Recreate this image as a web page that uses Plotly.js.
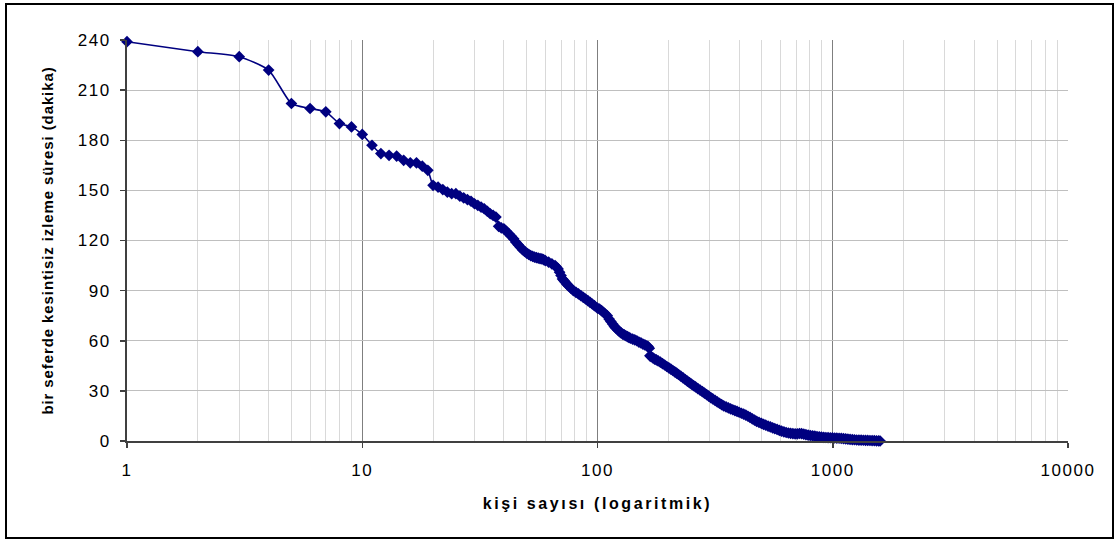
<!DOCTYPE html>
<html>
<head>
<meta charset="utf-8">
<script src="https://cdn.plot.ly/plotly-3.0.1.min.js"></script>
<style>
  html, body { margin: 0; padding: 0; background: #ffffff; }
  #chart { width: 1120px; height: 541px; }
</style>
</head>
<body>
<div id="chart"></div>
<script>
// number of people (rank, log scale)
const ranks = [
  1, 2, 3, 4, 5, 6, 7, 8, 9, 10,
  11, 12, 13, 14, 15, 16, 17, 18, 19, 20,
  21, 22, 23, 24, 25, 26, 27, 28, 29, 30,
  31, 32, 33, 34, 35, 36, 37, 38, 39, 40,
  41, 42, 43, 44, 45, 46, 47, 48, 49, 50,
  51, 52, 53, 54, 55, 56, 57, 58, 59, 60,
  62, 64, 66, 67, 68, 69, 70, 71, 72, 73,
  74, 75, 77, 79, 81, 83, 85, 87, 89, 91,
  93, 95, 97, 100, 102, 104, 106, 108, 110, 112,
  114, 116, 118, 120, 122, 124, 126, 128, 130, 132,
  134, 136, 138, 141, 144, 147, 150, 153, 156, 159,
  162, 164, 166, 167, 169, 172, 175, 178, 181, 185,
  189, 193, 197, 201, 205, 209, 213, 217, 221, 226,
  231, 236, 241, 246, 251, 256, 261, 267, 273, 279,
  285, 291, 297, 303, 309, 316, 323, 330, 337, 344,
  352, 360, 368, 376, 384, 392, 400, 409, 418, 427,
  436, 445, 455, 465, 475, 486, 497, 508, 519, 531,
  543, 555, 567, 580, 593, 606, 620, 634, 648, 662,
  677, 692, 707, 722, 737, 753, 769, 786, 803, 821,
  839, 857, 876, 895, 915, 935, 955, 976, 997, 1019,
  1041, 1064, 1087, 1111, 1135, 1160, 1185, 1211, 1237, 1264,
  1292, 1320, 1349, 1378, 1408, 1439, 1470, 1502, 1535, 1568,
  1590
];
// uninterrupted viewing time in one sitting (minutes)
const minutes = [
  239, 233, 230, 222, 202, 199, 197, 190, 188, 183.5,
  177, 172, 171, 170.5, 168, 166.5, 166.5, 164.5, 162, 153,
  152, 150.5, 149, 148, 148, 146.5, 145.5, 144.5, 143.5, 142,
  141, 140, 139, 137.5, 136, 135, 134, 128.5, 127.5, 127,
  125.5, 124, 122.5, 121, 119, 117.5, 116, 114.5, 113.5, 112.5,
  111.7, 111, 110.5, 110, 109.7, 109.5, 109.2, 109, 108.5, 108,
  107, 106, 105, 104, 103, 101, 99, 97, 96, 95,
  94, 93, 91.5, 90, 89, 88, 87, 86, 85, 84,
  83, 82, 81, 79.5, 79, 78, 77, 76, 75, 73,
  71.5, 70, 68.5, 67.5, 66.5, 65.5, 64.7, 64, 63.5, 63,
  62.5, 62, 61.5, 61, 60.5, 60, 59.2, 58.7, 58, 57.5,
  57, 56.5, 55.5, 51, 50.5, 49.8, 49, 48.5, 48, 47.2,
  46.3, 45.5, 44.6, 43.8, 43, 42.2, 41.4, 40.6, 39.8, 38.8,
  37.8, 36.8, 35.8, 34.9, 34, 33.2, 32.4, 31.4, 30.5, 29.6,
  28.7, 27.8, 26.9, 26, 25.2, 24.3, 23.4, 22.6, 21.8, 21,
  20.4, 19.8, 19.2, 18.7, 18.2, 17.7, 17.2, 16.6, 16.1, 15.5,
  14.8, 14.1, 13.3, 12.5, 11.8, 11.2, 10.6, 10, 9.5, 8.9,
  8.4, 7.9, 7.4, 6.9, 6.4, 5.9, 5.5, 5.1, 4.8, 4.6,
  4.4, 4.3, 4.3, 4.5, 4.4, 4.1, 3.8, 3.5, 3.3, 3.1,
  2.9, 2.7, 2.5, 2.35, 2.2, 2.1, 2, 1.95, 1.9, 1.8,
  1.7, 1.65, 1.55, 1.4, 1.25, 1.1, 0.95, 0.85, 0.75, 0.6,
  0.55, 0.5, 0.45, 0.4, 0.35, 0.3, 0.25, 0.2, 0.1, 0.05,
  0
];
const xTickVals = [1, 10, 100, 1000, 10000];
const xTickLabels = ['1', '10', '100', '1000', '10000'];
const yTickVals = [0, 30, 60, 90, 120, 150, 180, 210, 240];
const yTickLabels = ['0', '30', '60', '90', '120', '150', '180', '210', '240'];
const xTitle = 'kişi sayısı (logaritmik)';
const yTitle = 'bir seferde kesintisiz izleme süresi (dakika)';

const sp = (t, ls) => '<span style="letter-spacing:' + ls + 'px">' + t + '</span>';

const trace = {
  type: 'scatter',
  mode: 'lines+markers',
  x: ranks,
  y: minutes,
  cliponaxis: false,
  line: { color: '#000080', width: 1.6, shape: 'spline', smoothing: 0.6 },
  marker: { symbol: 'diamond', size: 9, color: '#000080', line: { width: 0 } },
  hoverinfo: 'x+y'
};

const W = 941, H = 401;
const layout = {
  width: 1120,
  height: 541,
  margin: { l: 127, r: 52, t: 40, b: 100, pad: 0 },
  paper_bgcolor: '#ffffff',
  plot_bgcolor: '#ffffff',
  showlegend: false,
  font: { family: 'Liberation Sans, Arial, sans-serif', color: '#000000', size: 17 },
  xaxis: {
    type: 'log',
    range: [0, 4],
    tickmode: 'array',
    tickvals: xTickVals,
    ticktext: xTickLabels.map(t => sp(t, 1.5)),
    ticks: 'outside',
    ticklen: 5,
    tickwidth: 1.5,
    tickcolor: '#404040',
    ticklabelstandoff: 8,
    showline: true,
    linecolor: '#404040',
    linewidth: 2,
    showgrid: true,
    gridcolor: '#7f7f7f',
    gridwidth: 1,
    zeroline: false,
    minor: { dtick: 'D1', showgrid: true, gridcolor: '#d9d9d9', gridwidth: 1, ticks: '' },
    tickfont: { size: 17, color: '#000000' },
    title: {
      text: '<b>' + sp(xTitle, 2.6) + '</b>',
      font: { size: 16, color: '#000000' },
      standoff: 18
    }
  },
  yaxis: {
    range: [0, 240],
    tickmode: 'array',
    tickvals: yTickVals,
    ticktext: yTickLabels.map(t => sp(t, 1.5)),
    ticks: 'outside',
    ticklen: 5,
    tickwidth: 1.5,
    tickcolor: '#404040',
    ticklabelstandoff: 6,
    showline: true,
    linecolor: '#404040',
    linewidth: 2,
    showgrid: true,
    gridcolor: '#bfbfbf',
    gridwidth: 1,
    zeroline: false,
    tickfont: { size: 17, color: '#000000' },
    title: {
      text: '<b>' + sp(yTitle, 0.9) + '</b>',
      font: { size: 15, color: '#000000' },
      standoff: 20
    }
  },
  shapes: [{
    type: 'rect',
    xref: 'paper', yref: 'paper',
    x0: (6 - 127) / W, x1: (1113 - 127) / W,
    y0: (441 - 538) / H, y1: (441 - 4) / H,
    line: { color: '#000000', width: 2 },
    fillcolor: 'rgba(0,0,0,0)',
    layer: 'below'
  }]
};

Plotly.newPlot('chart', [trace], layout, { displayModeBar: false, staticPlot: true });
</script>
</body>
</html>
